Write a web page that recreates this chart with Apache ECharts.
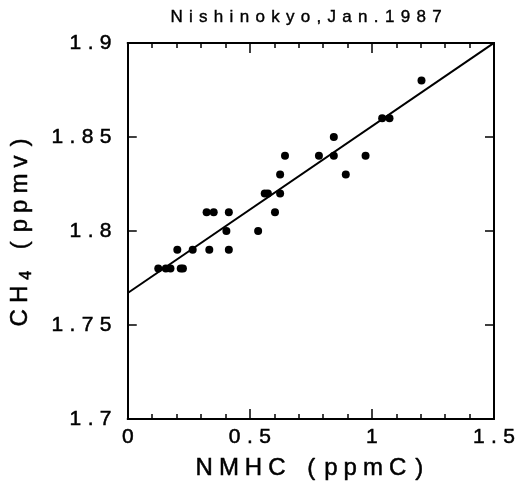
<!DOCTYPE html>
<html>
<head>
<meta charset="utf-8">
<script src="https://cdn.jsdelivr.net/npm/echarts@6/dist/echarts.min.js"></script>
<style>
  html, body { margin: 0; padding: 0; background: #fff; }
  #chart { width: 519px; height: 487px; }
</style>
</head>
<body>
<div id="chart"></div>
<script>
// NMHC (ppmC) and CH4 (ppmv) samples
const nmhc = [0.125, 0.156, 0.175, 0.203, 0.217, 0.226, 0.266, 0.323, 0.352, 0.334,
              0.404, 0.414, 0.414, 0.534, 0.561, 0.574, 0.603, 0.624, 0.624, 0.644,
              0.783, 0.844, 0.844, 0.893, 0.974, 1.042, 1.072, 1.203];
const ch4  = [1.78, 1.78, 1.78, 1.79, 1.78, 1.78, 1.79, 1.81, 1.81, 1.79,
              1.80, 1.81, 1.79, 1.80, 1.82, 1.82, 1.81, 1.82, 1.83, 1.84,
              1.84, 1.85, 1.84, 1.83, 1.84, 1.86, 1.86, 1.88];

// least-squares line
const fitIntercept = 1.767;
const fitSlope = 0.0887;
const fitX = [0, 1.5];

const xTickLabels = ['0', '0.5', '1', '1.5'];
const yTickLabels = ['1.7', '1.75', '1.8', '1.85', '1.9'];

const titleText = 'Nishinokyo,Jan.1987';
const xName = 'NMHC (ppmC)';

const FONT = '"Liberation Sans", Arial, sans-serif';
// a hairline outline gives the glyphs a slightly heavier stroke
const INK = { color: '#000', textBorderColor: '#000', textBorderWidth: 0.5 };

// wrap every character in a rich token so the text gets wide tracking;
// parentheses get their own, wider token style
function spaced(str, tag, parenTag) {
  return Array.from(str).map(ch => {
    const t = (parenTag && (ch === '(' || ch === ')')) ? parenTag : tag;
    return '{' + t + '|' + ch + '}';
  }).join('');
}

function labelFor(list, value) {
  const hit = list.find(s => Math.abs(parseFloat(s) - value) < 1e-9);
  return hit === undefined ? '' : spaced(hit, 't');
}

const points = nmhc.map((x, i) => [x, ch4[i]]);
const fitLine = fitX.map(x => [x, fitIntercept + fitSlope * x]);

const tickRich = { t: Object.assign({ fontFamily: FONT, fontSize: 21, padding: [0, 3.2] }, INK) };
const black = { color: '#000', width: 2 };

// frame axis helper: line + inward ticks, no labels
function frameX(position, interval, tickLen) {
  return {
    type: 'value', min: 0, max: 1.5, interval: interval, position: position,
    axisLine: { show: true, onZero: false, lineStyle: black },
    axisTick: { show: true, inside: true, length: tickLen, lineStyle: { color: '#000', width: 1.5 } },
    splitLine: { show: false },
    axisLabel: { show: false }
  };
}

const chart = echarts.init(document.getElementById('chart'), null, { renderer: 'canvas' });

chart.setOption({
  animation: false,
  backgroundColor: '#fff',
  graphic: [{
    type: 'text',
    x: 306, y: 17,
    style: {
      text: spaced(titleText, 'h'),
      align: 'center',
      verticalAlign: 'middle',
      rich: { h: { fontFamily: FONT, fontSize: 17, fill: '#000', stroke: '#000', lineWidth: 0.4, padding: [0, 3.15] } }
    }
  }],
  grid: { left: 124, right: 25, top: 43, bottom: 68, containLabel: false },
  xAxis: [
    Object.assign(frameX('bottom', 0.5, 10), {
      axisLabel: {
        show: true,
        margin: 8,
        formatter: v => labelFor(xTickLabels, v),
        rich: tickRich
      },
      name: spaced(xName, 'n', 'p'),
      nameLocation: 'middle',
      nameGap: 37,
      nameTextStyle: {
        rich: {
          n: Object.assign({ fontFamily: FONT, fontSize: 24, padding: [0, 3.0] }, INK),
          p: Object.assign({ fontFamily: FONT, fontSize: 24, padding: [0, 6.0] }, INK)
        }
      }
    }),
    frameX('top', 0.5, 10),
    frameX('bottom', 0.1, 5),
    frameX('top', 0.1, 5)
  ],
  yAxis: [{
    type: 'value', min: 1.7, max: 1.9, interval: 0.05,
    position: 'left',
    axisLine: { show: true, onZero: false, lineStyle: black },
    axisTick: { show: true, inside: true, length: 9, lineStyle: { color: '#000', width: 1.5 } },
    splitLine: { show: false },
    axisLabel: {
      margin: 13,
      formatter: v => labelFor(yTickLabels, v),
      rich: tickRich
    },
    name: spaced('CH', 'y') + '{sub|4}' + spaced(' (ppmv)', 'y', 'p'),
    nameLocation: 'middle',
    nameGap: 93,
    nameRotate: 90,
    nameTextStyle: {
      rich: {
        y: Object.assign({ fontFamily: FONT, fontSize: 24, lineHeight: 29, padding: [0, 3.0] }, INK),
        p: Object.assign({ fontFamily: FONT, fontSize: 24, lineHeight: 29, padding: [0, 6.0] }, INK),
        sub: Object.assign({ fontFamily: FONT, fontSize: 16, lineHeight: 19, verticalAlign: 'bottom', padding: [0, 3.0] }, INK)
      }
    }
  }, {
    type: 'value', min: 1.7, max: 1.9, interval: 0.05,
    position: 'right',
    axisLine: { show: true, onZero: false, lineStyle: black },
    axisTick: { show: true, inside: true, length: 9, lineStyle: { color: '#000', width: 1.5 } },
    splitLine: { show: false },
    axisLabel: { show: false }
  }],
  series: [{
    type: 'line',
    data: fitLine,
    showSymbol: false,
    symbol: 'none',
    lineStyle: { color: '#000', width: 2 },
    silent: true,
    z: 2
  }, {
    type: 'scatter',
    data: points,
    symbol: 'circle',
    symbolSize: 8,
    itemStyle: { color: '#000', opacity: 1 },
    z: 3
  }]
});
</script>
</body>
</html>
